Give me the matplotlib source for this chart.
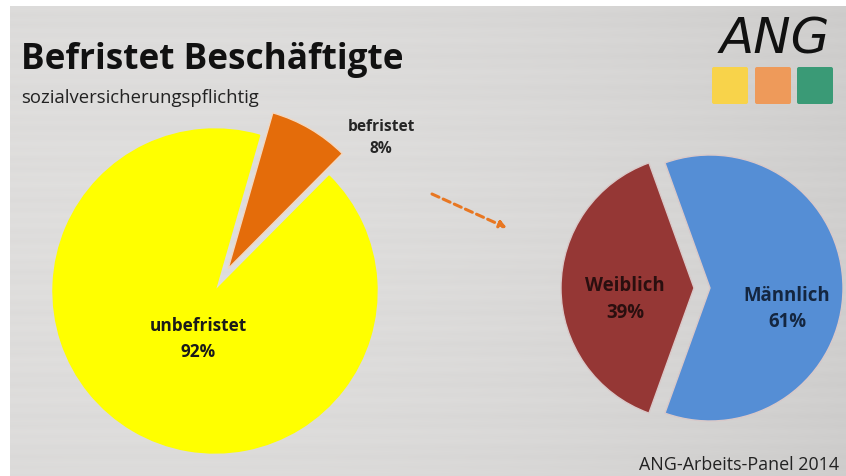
import numpy as np
import matplotlib
matplotlib.use("Agg")
import matplotlib.pyplot as plt
from matplotlib.patches import FancyBboxPatch

# ---- data ----
main_labels = ["befristet", "unbefristet"]
main_values = [8, 92]
main_colors = ["#E46C0A", "#FFFF00"]

gender_labels = ["Weiblich", "Männlich"]
gender_values = [39, 61]
gender_colors = ["#953735", "#558ED5"]

title = "Befristet Beschäftigte"
subtitle = "sozialversicherungspflichtig"
source = "ANG-Arbeits-Panel 2014"

W, H = 846, 477
fig = plt.figure(figsize=(W / 100, H / 100), dpi=100)
fig.patch.set_facecolor("white")
ax = fig.add_axes([0, 0, 1, 1])
ax.set_xlim(0, W)
ax.set_ylim(0, H)
ax.set_aspect("equal")
ax.axis("off")

# background: light brushed-metal like grey gradient (after a small white border)
x0, ytop = 10, H - 7
xx = np.linspace(0, 1, 400)
yy = np.linspace(0, 1, 220)
X, Y = np.meshgrid(xx, yy)
base = 0.885 - 0.08 * (X - 0.4) ** 2 - 0.04 * (Y - 0.5) ** 2 - 0.04 * X
stripes = 0.004 * np.sin(Y * 220 * 1.3) + 0.003 * np.sin(Y * 220 * 0.37 + 1.0)
L = base + stripes
img = np.dstack([L, L * 0.995, L * 0.99])
ax.imshow(img, extent=[x0, W, 0, ytop], origin="lower", aspect="auto", zorder=0,
          interpolation="bilinear")

def yi(y):
    return H - y

# ---- main pie ----
wedges, _ = ax.pie(main_values, colors=main_colors, startangle=74, counterclock=False,
                   center=(215, yi(292)), radius=162, explode=[26, 0],
                   wedgeprops=dict(linewidth=1.0, edgecolor="#f3d7bf"),
                   frame=True)
for w in wedges:
    w.set_zorder(2)
wedges[1].set_edgecolor("#FFFF00")

# ---- gender pie ----
wedges2, _ = ax.pie(gender_values, colors=gender_colors, startangle=109.8, counterclock=True,
                    center=(702, yi(289)), radius=133, explode=[8, 8],
                    wedgeprops=dict(linewidth=1.0, edgecolor="#d9c9c9"),
                    frame=True)
for w in wedges2:
    w.set_zorder(2)

ax.set_xlim(0, W)
ax.set_ylim(0, H)
ax.axis("off")

# ---- labels ----
font = ["Open Sans", "DejaVu Sans"]
ax.text(381, yi(127), main_labels[0], ha="center", va="center", fontsize=11.2,
        fontweight="bold", color="#262626", family=font, zorder=5)
ax.text(381, yi(149), f"{main_values[0]}%", ha="center", va="center", fontsize=11.2,
        fontweight="bold", color="#262626", family=font, zorder=5)
ax.text(198, yi(326), main_labels[1], ha="center", va="center", fontsize=12.4,
        fontweight="bold", color="#1a1a1a", family=font, zorder=5)
ax.text(198, yi(352), f"{main_values[1]}%", ha="center", va="center", fontsize=12.4,
        fontweight="bold", color="#1a1a1a", family=font, zorder=5)

ax.text(625, yi(286), gender_labels[0], ha="center", va="center", fontsize=13.4,
        fontweight="bold", color="#2a0f0f", family=font, zorder=5)
ax.text(625, yi(313), f"{gender_values[0]}%", ha="center", va="center", fontsize=13.4,
        fontweight="bold", color="#2a0f0f", family=font, zorder=5)
ax.text(787, yi(296), gender_labels[1], ha="center", va="center", fontsize=13.4,
        fontweight="bold", color="#142640", family=font, zorder=5)
ax.text(787, yi(322), f"{gender_values[1]}%", ha="center", va="center", fontsize=13.4,
        fontweight="bold", color="#142640", family=font, zorder=5)

# ---- title ----
ax.text(21, yi(60), title, ha="left", va="center", fontsize=25.3, fontweight="bold",
        color="#111111", family=font, zorder=5)
ax.text(21, yi(98), subtitle, ha="left", va="center", fontsize=13.3,
        color="#222222", family=font, zorder=5)

# ---- arrow ----
ax.annotate("", xy=(507, yi(229)), xytext=(432, yi(195)),
            arrowprops=dict(arrowstyle="-|>", color="#E87722", lw=2.2,
                            linestyle=(0, (2.5, 1.5)), mutation_scale=10,
                            shrinkA=0, shrinkB=0), zorder=4)

# ---- logo ----
ax.text(775, yi(39), "ANG", ha="center", va="center", fontsize=36, fontstyle="italic",
        color="#111111", family=["DejaVu Sans"], zorder=5)
for xl, c in zip([712, 755, 797], ["#F8D34A", "#EE9A5A", "#3A9A76"]):
    ax.add_patch(FancyBboxPatch((xl, yi(105)), 36, 37,
                                boxstyle="round,pad=0,rounding_size=2",
                                facecolor=c, edgecolor="none", zorder=5))

# ---- source ----
ax.text(639, yi(465), source, ha="left", va="center", fontsize=12.9,
        color="#222222", family=font, zorder=5)

fig.savefig("out.png", dpi=100)
